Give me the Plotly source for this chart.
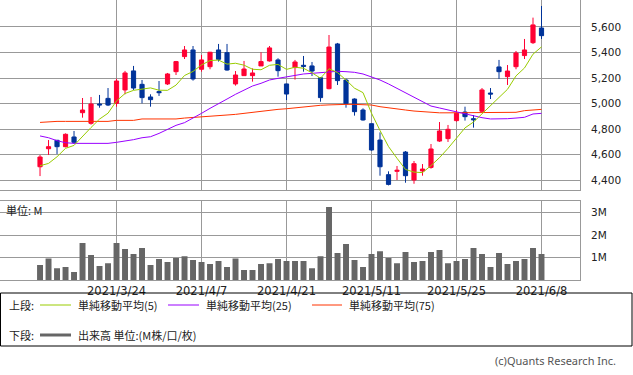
import plotly.graph_objects as go

# ---------------- data ----------------
dates = ["2021/3/11", "2021/3/12", "2021/3/15", "2021/3/16", "2021/3/17", "2021/3/18", "2021/3/19",
         "2021/3/22", "2021/3/23", "2021/3/24", "2021/3/25", "2021/3/26", "2021/3/29", "2021/3/30",
         "2021/3/31", "2021/4/1", "2021/4/2", "2021/4/5", "2021/4/6", "2021/4/7", "2021/4/8",
         "2021/4/9", "2021/4/12", "2021/4/13", "2021/4/14", "2021/4/15", "2021/4/16", "2021/4/19",
         "2021/4/20", "2021/4/21", "2021/4/22", "2021/4/23", "2021/4/26", "2021/4/27", "2021/4/28",
         "2021/4/30", "2021/5/6", "2021/5/7", "2021/5/10", "2021/5/11", "2021/5/12", "2021/5/13",
         "2021/5/14", "2021/5/17", "2021/5/18", "2021/5/19", "2021/5/20", "2021/5/21", "2021/5/24",
         "2021/5/25", "2021/5/26", "2021/5/27", "2021/5/28", "2021/5/31", "2021/6/1", "2021/6/2",
         "2021/6/3", "2021/6/4", "2021/6/7", "2021/6/8"]

opens = [4506, 4647, 4713, 4663, 4739, 4929, 4846, 4997, 5041, 5002,
         5107, 5256, 5151, 5052, 5094, 5154, 5250, 5368, 5420, 5269,
         5289, 5420, 5399, 5154, 5219, 5219, 5295, 5334, 5342, 5154,
         5282, 5300, 5295, 5203, 5117, 5467, 5185, 5036, 4950, 4843,
         4715, 4444, 4470, 4621, 4402, 4473, 4501, 4707, 4726, 4867,
         4934, 4882, 4940, 5083, 5287, 5211, 5289, 5376, 5477, 5592]
highs = [4598, 4715, 4716, 4767, 4786, 5044, 5052, 5068, 5122, 5195,
         5256, 5295, 5185, 5073, 5177, 5240, 5334, 5451, 5451, 5381,
         5405, 5467, 5467, 5255, 5334, 5276, 5402, 5451, 5355, 5156,
         5342, 5373, 5326, 5206, 5537, 5475, 5195, 5041, 4963, 4843,
         4775, 4470, 4512, 4629, 4551, 4527, 4684, 4856, 4833, 4950,
         4976, 4911, 5122, 5122, 5342, 5302, 5412, 5506, 5673, 5764]
lows = [4433, 4598, 4606, 4658, 4684, 4890, 4835, 4968, 4981, 4976,
        5073, 5107, 5002, 4976, 5060, 5146, 5224, 5349, 5180, 5250,
        5269, 5329, 5258, 5141, 5219, 5172, 5295, 5329, 5211, 5028,
        5188, 5250, 5216, 5015, 5112, 5146, 4968, 4906, 4867, 4632,
        4436, 4360, 4402, 4381, 4373, 4436, 4491, 4700, 4700, 4859,
        4867, 4812, 4934, 5036, 5193, 5146, 5269, 5349, 5467, 5506]
closes = [4582, 4663, 4663, 4760, 4697, 4950, 4997, 4990, 4989, 5177,
          5240, 5122, 5047, 5031, 5086, 5232, 5329, 5420, 5193, 5342,
          5402, 5347, 5263, 5224, 5271, 5240, 5329, 5436, 5258, 5075,
          5326, 5292, 5255, 5047, 5443, 5180, 5000, 4937, 4872, 4637,
          4506, 4368, 4478, 4436, 4530, 4488, 4645, 4786, 4799, 4924,
          4898, 4874, 5107, 5075, 5250, 5255, 5396, 5420, 5616, 5532]

sma5 = [4514, 4532, 4584, 4650, 4673, 4747, 4813, 4879, 4925, 5021,
        5079, 5104, 5115, 5123, 5105, 5104, 5145, 5220, 5252, 5303,
        5337, 5341, 5309, 5316, 5301, 5269, 5265, 5300, 5307, 5268,
        5285, 5277, 5241, 5199, 5273, 5243, 5185, 5121, 5086, 4925,
        4790, 4664, 4572, 4485, 4464, 4460, 4515, 4577, 4650, 4728,
        4810, 4856, 4920, 4976, 5041, 5112, 5217, 5279, 5387, 5444]
sma25 = [4747, 4733, 4710, 4694, 4689, 4689, 4689, 4689, 4689, 4697,
         4705, 4718, 4733, 4741, 4767, 4800, 4830, 4851, 4885, 4924,
         4963, 5002, 5036, 5073, 5107, 5138, 5159, 5185, 5198, 5211,
         5222, 5232, 5237, 5242, 5250, 5253, 5250, 5245, 5232, 5211,
         5185, 5154, 5120, 5086, 5049, 5015, 4981, 4966, 4950, 4937,
         4924, 4903, 4890, 4880, 4880, 4882, 4887, 4893, 4919, 4924]
sma75 = [4853, 4858, 4861, 4861, 4861, 4861, 4861, 4861, 4861, 4869,
         4869, 4869, 4880, 4880, 4880, 4880, 4880, 4887, 4893, 4898,
         4902, 4906, 4911, 4916, 4924, 4932, 4941, 4950, 4955, 4960,
         4968, 4976, 4981, 4987, 4990, 4994, 4994, 4994, 4994, 4989,
         4976, 4966, 4958, 4950, 4942, 4937, 4929, 4928, 4928, 4928,
         4928, 4928, 4928, 4928, 4928, 4932, 4932, 4945, 4950, 4955]
volume_m = [0.68, 0.96, 0.54, 0.59, 0.37, 1.65, 1.12, 0.63, 0.76, 1.65,
            1.38, 1.16, 1.43, 0.68, 0.94, 0.81, 0.99, 1.07, 0.90, 0.81,
            0.72, 0.85, 0.59, 0.96, 0.46, 0.46, 0.72, 0.76, 0.94, 0.85,
            0.85, 0.85, 0.54, 1.07, 3.24, 1.21, 1.60, 0.90, 0.59, 1.16,
            1.29, 0.99, 0.76, 1.25, 0.81, 0.85, 1.25, 1.34, 0.76, 0.85,
            0.94, 1.43, 1.16, 0.59, 1.21, 0.72, 0.85, 0.94, 1.43, 1.16]

date_ticks = ["2021/3/24", "2021/4/7", "2021/4/21", "2021/5/11", "2021/5/25", "2021/6/8"]
price_ticks = [4400, 4600, 4800, 5000, 5200, 5400, 5600]
vol_ticks = [1, 2, 3]
vol_tick_labels = ["1M", "2M", "3M"]

legend_top = ["単純移動平均(5)", "単純移動平均(25)", "単純移動平均(75)"]
legend_bottom = "出来高 単位:(M株/口/枚)"

# ---------------- styling ----------------
W, H = 633, 375
RED = "#ff0033"
BLUE = "#003399"
C5 = "#99cc00"
C25 = "#9900ff"
C75 = "#ff3300"
GRID = "#999999"
BAR = "#666666"
TXT = "#222222"

def px(x):
    return x / W

def py(y):
    return 1 - y / H

xrange_ = [-4.71, 63.53]
xdom = [0, px(580)]

fig = go.Figure()
fig.add_trace(go.Candlestick(
    x=dates, open=opens, high=highs, low=lows, close=closes,
    increasing=dict(line=dict(color=RED, width=1), fillcolor=RED),
    decreasing=dict(line=dict(color=BLUE, width=1), fillcolor=BLUE),
    whiskerwidth=0, showlegend=False, hoverinfo="skip",
    xaxis="x", yaxis="y"))
for vals, col in [(sma75, C75), (sma25, C25), (sma5, C5)]:
    fig.add_trace(go.Scatter(x=dates, y=vals, mode="lines",
                             line=dict(color=col, width=1),
                             showlegend=False, hoverinfo="skip",
                             xaxis="x", yaxis="y"))
fig.add_trace(go.Bar(x=dates, y=volume_m, marker=dict(color=BAR, line=dict(width=0)),
                     width=0.7, showlegend=False, hoverinfo="skip",
                     xaxis="x2", yaxis="y2"))

axis_common = dict(showgrid=True, gridcolor=GRID, gridwidth=1, zeroline=False,
                   showline=True, mirror=True, linecolor=GRID, linewidth=1, ticks="",
                   automargin=False)

fig.update_layout(
    width=W, height=H, margin=dict(l=0, r=0, t=0, b=0, autoexpand=False),
    paper_bgcolor="white", plot_bgcolor="white",
    font=dict(family="DejaVu Sans", size=11, color=TXT),
    xaxis=dict(domain=xdom, anchor="y", type="category", range=xrange_,
               tickvals=date_ticks, showticklabels=False,
               rangeslider=dict(visible=False), **axis_common),
    yaxis=dict(domain=[py(190), 1], anchor="x", side="right",
               range=[4324, 5811], tickvals=price_ticks, tickformat=",",
               ticklabelstandoff=8, tickfont=dict(size=10.5, color=TXT),
               **axis_common),
    xaxis2=dict(domain=xdom, anchor="y2", type="category", range=xrange_,
                tickvals=date_ticks, ticktext=date_ticks,
                tickfont=dict(size=11.5, color=TXT), ticklabelstandoff=0,
                **axis_common),
    yaxis2=dict(domain=[py(280.4), py(201)], anchor="x2", side="right",
                range=[0, 3.5], tickvals=vol_ticks, ticktext=vol_tick_labels,
                ticklabelstandoff=8, tickfont=dict(size=10.5, color=TXT),
                **axis_common),
    bargap=0.3,
)

shapes = []
# legend box
shapes.append(dict(type="rect", xref="paper", yref="paper",
                   x0=px(0.5), x1=px(632), y0=py(346), y1=py(293),
                   line=dict(color="black", width=1), fillcolor="rgba(0,0,0,0)"))
for (x0, x1, col) in [(40, 71, C5), (168, 199, C25), (312, 342, C75)]:
    shapes.append(dict(type="line", xref="paper", yref="paper",
                       x0=px(x0), x1=px(x1), y0=py(305), y1=py(305),
                       line=dict(color=col, width=1)))
shapes.append(dict(type="line", xref="paper", yref="paper",
                   x0=px(40), x1=px(71), y0=py(335), y1=py(335),
                   line=dict(color=BAR, width=3)))
fig.update_layout(shapes=shapes)

cjk = dict(family="Noto Sans CJK JP", size=11, color=TXT)
ann = []
ann.append(dict(text="単位: M", x=px(4), y=py(210), xref="paper", yref="paper",
                xanchor="left", yanchor="middle", showarrow=False, font=cjk))
ann.append(dict(text="上段:", x=px(7), y=py(305), xref="paper", yref="paper",
                xanchor="left", yanchor="middle", showarrow=False, font=cjk))
for xl, t in zip([76, 204, 347], legend_top):
    ann.append(dict(text=t, x=px(xl), y=py(305), xref="paper", yref="paper",
                    xanchor="left", yanchor="middle", showarrow=False, font=cjk))
ann.append(dict(text="下段:", x=px(7), y=py(335), xref="paper", yref="paper",
                xanchor="left", yanchor="middle", showarrow=False, font=cjk))
ann.append(dict(text=legend_bottom, x=px(76), y=py(335), xref="paper", yref="paper",
                xanchor="left", yanchor="middle", showarrow=False, font=cjk))
ann.append(dict(text="(c)Quants Research Inc.", x=px(618), y=py(360),
                xref="paper", yref="paper", xanchor="right", yanchor="middle",
                showarrow=False, font=dict(family="Noto Sans", size=11, color="#555555")))
fig.update_layout(annotations=ann)

fig.write_html("out.html", config={"displayModeBar": False},
               post_script="document.body.style.margin='0px';")
